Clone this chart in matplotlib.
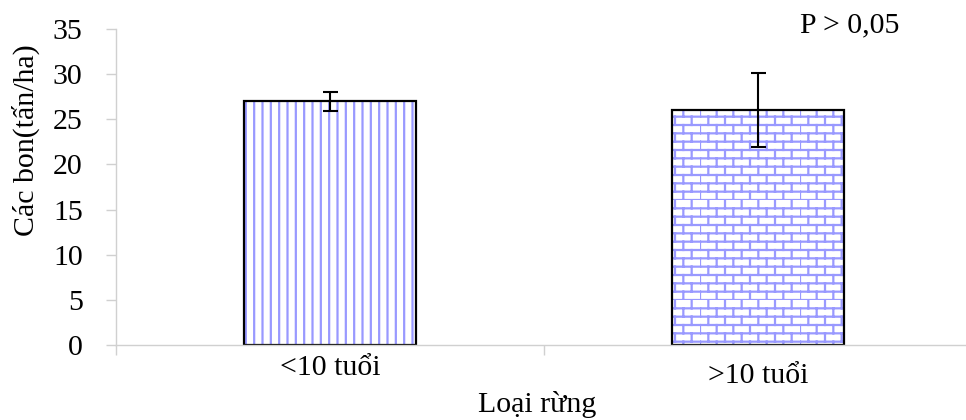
import numpy as np
import matplotlib.pyplot as plt
from matplotlib import hatch as mhatch
from matplotlib.path import Path
import warnings

warnings.filterwarnings('ignore')

# Du lieu
categories = ['<10 tuổi', '>10 tuổi']
values = [27.0, 26.0]
errors = [1.05, 4.1]
hatches = ['||', 'b']


# Hatch kieu gach (brick) tu dinh nghia
class BrickHatch(mhatch.HatchPatternBase):
    def __init__(self, hatch, density):
        self.rows = hatch.count('b') * 12
        self.cols = 6
        if self.rows:
            self.num_lines = self.rows + self.rows * self.cols
        else:
            self.num_lines = 0
        self.num_vertices = self.num_lines * 2

    def set_vertices_and_codes(self, vertices, codes):
        segs = []
        h = 1.0 / self.rows
        w = 1.0 / self.cols
        for k in range(self.rows):
            y0 = k * h
            segs.append(((0.0, y0), (1.0, y0)))
            off = 0.5 * w * (k % 2)
            for j in range(self.cols):
                x = j * w + off
                segs.append(((x, y0), (x, y0 + h)))
        v = np.array(segs).reshape(-1, 2)
        vertices[:] = v
        codes[0::2] = Path.MOVETO
        codes[1::2] = Path.LINETO


mhatch._hatch_types.append(BrickHatch)

plt.rcParams['font.family'] = ['Liberation Serif', 'DejaVu Serif']
plt.rcParams['hatch.linewidth'] = 1.6
fs = 21.5

fig = plt.figure(figsize=(9.66, 4.2), dpi=100)
ax = fig.add_axes([116/966, 1 - 345/420, 856/966, 316/420])

x = np.arange(len(categories))
blue = '#9999ff'
for xi, v, h in zip(x, values, hatches):
    ax.bar(xi, v, width=0.404, color='white', edgecolor=blue, linewidth=0, hatch=h)
ax.bar(x, values, width=0.404, fill=False, edgecolor='black', linewidth=1.6)
ax.errorbar(x, values, yerr=errors, fmt='none', ecolor='black',
            elinewidth=1.5, capsize=5.4, capthick=1.5)

ax.set_xlim(-0.5, 1.5)
ax.set_ylim(0, 35)
ax.set_yticks(np.arange(0, 36, 5))
ax.set_xticks([-0.5, 0.5, 1.5])
ax.set_xticklabels([])

for s in ['top', 'right']:
    ax.spines[s].set_visible(False)
for s in ['left', 'bottom']:
    ax.spines[s].set_color('#d0d0d0')
    ax.spines[s].set_linewidth(1)
ax.tick_params(axis='both', color='#d0d0d0', length=7, width=1)
ax.tick_params(axis='y', labelsize=fs, pad=17)

# nhan truc x (lech nhau nhu hinh goc)
label_base = [375, 383]
for xi, lab, yy in zip(x, categories, label_base):
    ax.annotate(lab, xy=(xi, 0), xycoords=('data', 'axes fraction'),
                xytext=(xi, 1 - yy/420), textcoords=('data', 'figure fraction'),
                ha='center', va='baseline', fontsize=fs)

fig.text(25.5/966, 1 - 140/420, 'Các bon(tấn/ha)', rotation=90,
         ha='center', va='center', fontsize=fs)
fig.text(537/966, 2/420, 'Loại rừng', ha='center', va='bottom', fontsize=fs)
fig.text(850/966, 1 - 32/420, 'P > 0,05', ha='center', va='baseline', fontsize=fs)

fig.savefig('out.png', dpi=100)
